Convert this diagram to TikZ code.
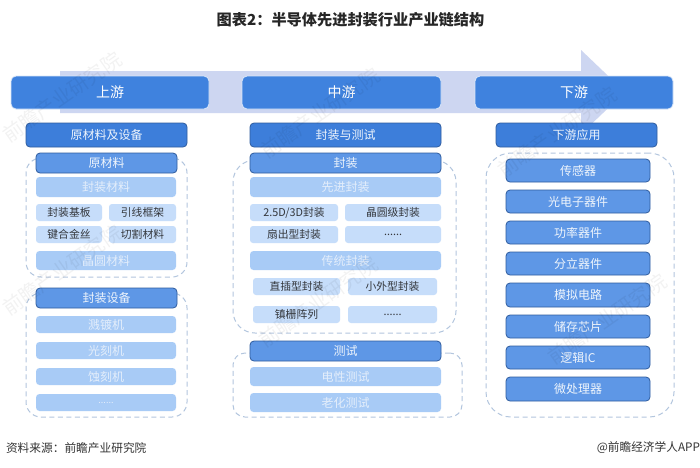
\documentclass[tikz,border=0pt]{standalone}
\usepackage{fontspec}
\setmainfont{Noto Sans CJK SC}
\definecolor{cband}{HTML}{3F82DE}
\definecolor{cdark}{HTML}{3D7EDA}
\definecolor{cmid}{HTML}{5E97E6}
\definecolor{cedge}{HTML}{2F5C9E}
\definecolor{clight}{HTML}{A8CBF6}
\definecolor{cpale}{HTML}{C6DDFA}
\definecolor{carrow}{HTML}{CDD6F1}
\definecolor{cdash}{HTML}{B3C6DE}
\definecolor{ctxt}{HTML}{33363B}
\definecolor{clt}{HTML}{E4EEFB}
\tikzset{
  every node/.style={inner sep=0pt,outer sep=0pt,align=center},
  band/.style={fill=cband,draw=white!80!cband,line width=0.8pt,rounded corners=5pt,text=white,font=\fontsize{14}{14}\selectfont},
  headbox/.style={fill=cdark,draw=cedge,line width=0.8pt,rounded corners=4pt,text=white!92!cdark,font=\fontsize{12}{12}\selectfont},
  midbox/.style={fill=cmid,draw=cedge,line width=0.8pt,rounded corners=4pt,text=white!90!cmid,font=\fontsize{12}{12}\selectfont},
  lightbox/.style={fill=clight,rounded corners=3.5pt,text=clt,font=\fontsize{12}{12}\selectfont},
  palebox/.style={fill=cpale,rounded corners=3pt,text=ctxt,font=\fontsize{10.8}{11}\selectfont},
  frame/.style={draw=cdash,line width=1pt,dash pattern=on 5pt off 3.5pt,rounded corners=#1},
  wm/.style={text=black,opacity=0.05,font=\fontsize{20}{20}\selectfont,rotate=35},
}
\newcommand{\bx}[7]{%
  \pgfmathsetmacro{\cxx}{(#3+#5)/2}\pgfmathsetmacro{\cyy}{(#4+#6)/2}%
  \pgfmathsetmacro{\www}{#5-#3}\pgfmathsetmacro{\hhh}{#6-#4}%
  \node[#1,minimum width=\www pt,minimum height=\hhh pt] (#2) at (\cxx,\cyy) {#7};}
\begin{document}
\begin{tikzpicture}[x=1pt,y=-1pt]
\useasboundingbox (0,0) rectangle (700,467);
\fill[white] (0,0) rectangle (700,467);
% big arrow
\fill[carrow] (60,71) -- (581,71) -- (581,50) -- (625,92) -- (581,134) -- (581,113) -- (60,113) -- cycle;
% title and source
\node[font=\bfseries\fontsize{15.2}{16}\selectfont,text=black!85] (title) at (350.5,19.5) {图表2：半导体先进封装行业产业链结构};
\node[anchor=west,font=\fontsize{11.7}{12}\selectfont,text=black!80] (src) at (6,448) {资料来源：前瞻产业研究院};
\node[anchor=east,font=\fontsize{11.7}{12}\selectfont,text=black!80] (app) at (700,448) {@前瞻经济学人APP};
% dashed frames
\bx{frame=15pt}{fa}{26}{158}{187}{277}{}
\bx{frame=15pt}{fb}{26}{293}{187}{417}{}
\bx{frame=22pt}{fc}{233}{160}{456}{333}{}
\bx{frame=12pt}{fd}{233}{353}{462}{417}{}
\bx{frame=25pt}{fe}{486}{153}{674}{417}{}
% top bands
\bx{band}{up}{11}{76}{209}{109}{上游}
\bx{band}{mid}{242}{76}{441}{109}{中游}
\bx{band}{down}{475}{76}{673}{109}{下游}
% left column
\bx{headbox}{la}{26}{123}{187}{147}{原材料及设备}
\bx{midbox}{lb}{36}{153}{177}{173}{原材料}
\bx{lightbox}{lc}{36}{177}{176}{197}{封装材料}
\bx{palebox}{ld}{36}{204}{102}{221}{封装基板}
\bx{palebox}{le}{109}{204}{176}{221}{引线框架}
\bx{palebox}{lf}{36}{226}{102}{243}{键合金丝}
\bx{palebox}{lg}{109}{226}{176}{243}{切割材料}
\bx{lightbox}{lh}{36}{251}{176}{270}{晶圆材料}
\bx{midbox}{li}{36}{288}{177}{308}{封装设备}
\bx{lightbox}{lj}{36}{316}{176}{333}{溅镀机}
\bx{lightbox}{lk}{36}{342}{176}{359}{光刻机}
\bx{lightbox}{ll}{36}{368}{176}{385}{蚀刻机}
\bx{lightbox}{lm}{36}{394}{176}{411}{\fontsize{9}{9}\selectfont ......}
% middle column
\bx{headbox}{ma}{250}{123}{441}{147}{封装与测试}
\bx{midbox}{mb}{250}{153}{441}{173}{封装}
\bx{lightbox}{mc}{250}{177}{441}{197}{先进封装}
\bx{palebox}{md}{250}{204}{338}{221}{2.5D/3D封装}
\bx{palebox}{me}{345}{204}{441}{221}{晶圆级封装}
\bx{palebox}{mf}{250}{226}{338}{243}{扇出型封装}
\bx{palebox}{mg}{345}{226}{441}{243}{......}
\bx{lightbox}{mh}{250}{251}{441}{270}{传统封装}
\bx{palebox}{mi}{253}{278}{340}{295}{直插型封装}
\bx{palebox}{mj}{348}{278}{437}{295}{小外型封装}
\bx{palebox}{mk}{253}{306}{340}{323}{镇栅阵列}
\bx{palebox}{ml}{348}{306}{437}{323}{......}
\bx{midbox}{mm}{250}{341}{441}{361}{测试}
\bx{lightbox}{mn}{250}{367}{441}{386}{电性测试}
\bx{lightbox}{mo}{250}{393}{441}{412}{老化测试}
% right column
\bx{headbox}{ra}{496}{123}{657}{147}{下游应用}
\bx{midbox}{rb}{506}{159}{650}{182}{传感器}
\bx{midbox}{rc}{506}{190}{650}{213}{光电子器件}
\bx{midbox}{rd}{506}{221}{650}{244}{功率器件}
\bx{midbox}{re}{506}{252}{650}{275}{分立器件}
\bx{midbox}{rf}{506}{283}{650}{307}{模拟电路}
\bx{midbox}{rg}{506}{315}{650}{338}{储存芯片}
\bx{midbox}{rh}{506}{346}{650}{369}{逻辑IC}
\bx{midbox}{ri}{506}{377}{650}{401}{微处理器}
% watermarks
\node[wm] (w1) at (62,97) {前瞻产业研究院};
\node[wm] (w2) at (320,113) {前瞻产业研究院};
\node[wm] (w3) at (557,132) {前瞻产业研究院};
\node[wm] (w4) at (62,270) {前瞻产业研究院};
\node[wm] (w5) at (318,302) {前瞻产业研究院};
\node[wm] (w6) at (607,319) {前瞻产业研究院};
\end{tikzpicture}
\end{document}
